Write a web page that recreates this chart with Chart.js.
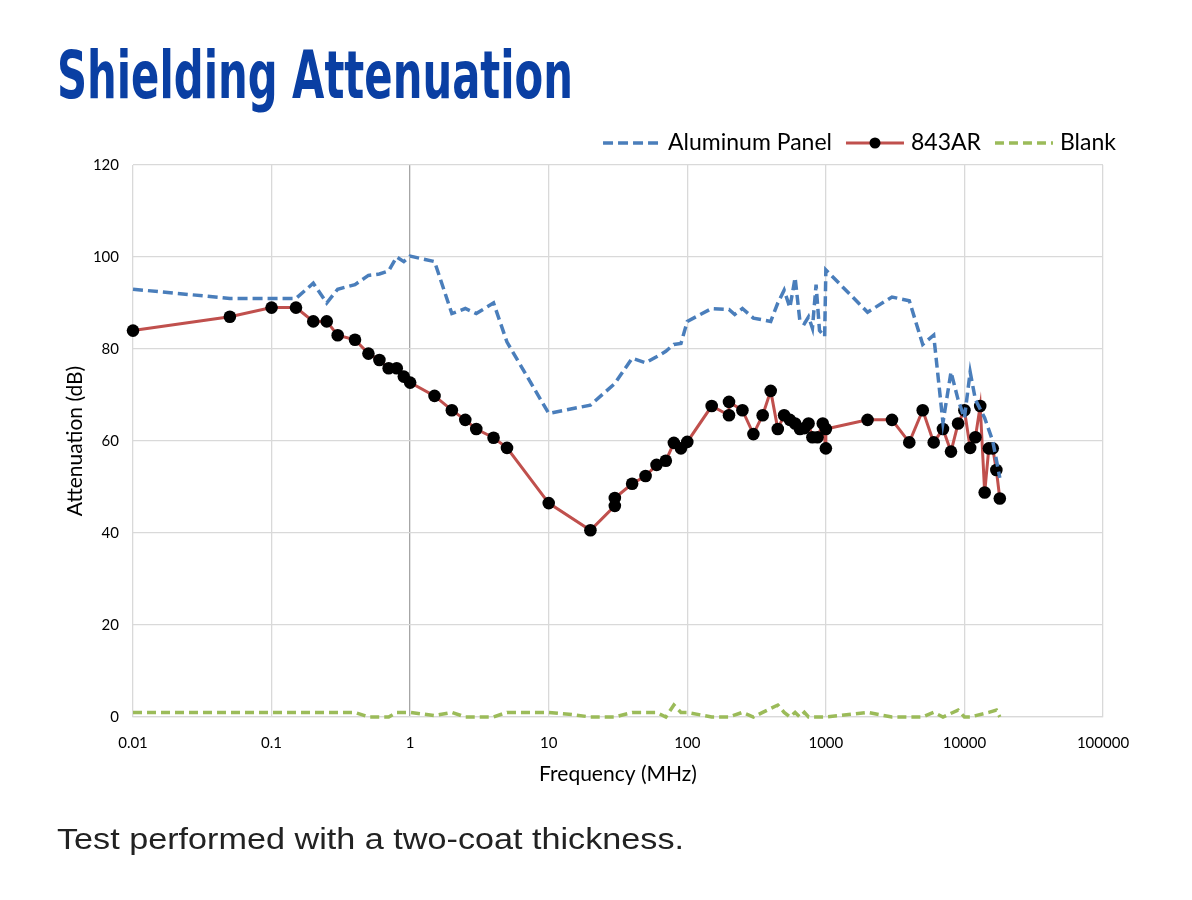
<!DOCTYPE html>
<html><head><meta charset="utf-8">
<script src="https://cdn.jsdelivr.net/npm/chart.js@4/dist/chart.umd.min.js"></script>
<style>
html,body{margin:0;padding:0;background:#fff;}
body{width:1192px;height:900px;position:relative;overflow:hidden;}
#title{position:absolute;left:57px;top:43px;font-family:"Liberation Sans Narrow","DejaVu Sans Condensed","Roboto Condensed",sans-serif;font-weight:bold;font-size:66px;color:#0A3FA3;white-space:nowrap;transform-origin:0 0;line-height:1;}
#note{position:absolute;left:57px;top:825px;font-family:"Liberation Sans",Arial,sans-serif;font-size:29px;color:#222;white-space:nowrap;transform-origin:0 0;line-height:1;}
#wrap{position:absolute;left:0;top:0;width:1192px;height:900px;}
</style></head><body>
<div id="wrap"><canvas id="c" width="1192" height="900"></canvas></div>
<div id="title">Shielding Attenuation</div>
<div id="note">Test performed with a two-coat thickness.</div>
<script>
// ---- data (frequency in MHz, attenuation in dB) ----
const alFreq = [0.01,0.05,0.1,0.15,0.2,0.25,0.3,0.4,0.5,0.6,0.7,0.8,0.9,1,1.5,2,2.5,3,4,5,10,20,30,40,50,60,70,80,90,100,150,200,220,250,300,400,450,500,550,600,650,700,750,800,850,900,980,1000,2000,3000,4000,5000,6000,7000,8000,9000,10000,11000,12000,14000,16000,18000];
const alAtt  = [93,91,91,91,94.3,90,93,94,96,96.3,97,100,99,100.2,99,87.7,88.8,87.7,90,81.5,66,67.8,72.5,78,77,78.3,79.5,81,81.2,86,88.8,88.6,87.5,88.8,86.7,86,90,92.8,89,95.5,86,85.5,87,84.5,94,84,82.7,97.2,88,91.3,90.5,81,83,64,75,69,65,75,69,65,60,52];

const arFreq = [0.01,0.05,0.1,0.15,0.2,0.25,0.3,0.4,0.5,0.6,0.7,0.8,0.9,1,1.5,2,2.5,3,4,5,10,20,30,30,40,50,60,70,80,90,100,150,200,200,250,300,350,400,450,500,550,600,650,700,750,800,870,950,1000,1000,2000,3000,4000,5000,6000,7000,8000,9000,10000,11000,12000,13000,14000,15000,16000,17000,18000];
const arAtt  = [84,87,89,89,86,86,83,82,79,77.6,75.8,75.8,74,72.7,69.8,66.7,64.6,62.6,60.7,58.5,46.5,40.6,45.9,47.6,50.7,52.4,54.8,55.7,59.6,58.4,59.8,67.6,65.6,68.5,66.7,61.5,65.6,70.9,62.6,65.6,64.6,63.8,62.6,62.8,63.8,60.8,60.8,63.8,58.4,62.6,64.6,64.6,59.7,66.7,59.7,62.6,57.7,63.8,66.7,58.5,60.8,67.6,48.8,58.4,58.4,53.7,47.5];

const blankFreq = [0.01,0.4,0.5,0.7,0.8,1,1.5,2,2.5,4,5,10,15,20,30,40,60,70,80,90,100,150,200,250,300,350,450,500,550,600,650,700,750,1000,2000,3000,5000,6000,7000,9000,10000,11000,15000,17000,18000];
const blankAtt  = [1,1,0,0,1,1,0.3,1,0,0,1,1,0.5,0,0,1,1,0,2.6,1,1,0,0,1,0,1,2.6,1,0,1,0,1,0,0,1,0,0,1,0,1.5,0,0,1,1.5,0];

const xTickValues = [0.01,0.1,1,10,100,1000,10000,100000];
const xTickLabels = ['0.01','0.1','1','10','100','1000','10000','100000'];
const yTickValues = [0,20,40,60,80,100,120];

const seriesNames = ['Aluminum Panel','843AR','Blank'];

function pts(xs, ys){ return xs.map((x,i)=>({x:x, y:ys[i]})); }

const legendPlugin = {
  id:'customLegend',
  afterDraw(chart){
    const ctx = chart.ctx;
    const dsets = chart.data.datasets;
    ctx.save();
    ctx.font = '23px Lato';
    ctx.textBaseline = 'middle';
    const y = 143;
    let x = 1116;
    const sampleLen = 58, gapText = 7, gapItem = 14;
    for (let i = dsets.length-1; i >= 0; i--) {
      const ds = dsets[i];
      const tw = ctx.measureText(ds.label).width;
      x -= tw;
      ctx.fillStyle = '#000';
      ctx.fillText(ds.label, x, y);
      x -= gapText;
      const x1 = x, x0 = x - sampleLen;
      ctx.beginPath();
      ctx.setLineDash(ds.borderDash || []);
      ctx.strokeStyle = ds.borderColor;
      ctx.lineWidth = ds.borderWidth;
      ctx.moveTo(x0, y); ctx.lineTo(x1, y);
      ctx.stroke();
      ctx.setLineDash([]);
      if (ds.pointRadius > 0) {
        ctx.beginPath();
        ctx.fillStyle = ds.pointBackgroundColor;
        ctx.arc((x0+x1)/2, y, 5.5, 0, Math.PI*2);
        ctx.fill();
      }
      x = x0 - gapItem;
    }
    ctx.restore();
  }
};

const chart = new Chart(document.getElementById('c'), {
  type: 'line',
  data: {
    datasets: [
      { label: seriesNames[0], data: pts(alFreq, alAtt), borderColor:'#4A7EBB', borderWidth:3.5, borderDash:[10,5], pointRadius:0, tension:0, clip:false, fill:false },
      { label: seriesNames[1], data: pts(arFreq, arAtt), borderColor:'#C0504D', borderWidth:3, pointRadius:6.3, pointHoverRadius:6.3, pointBackgroundColor:'#000', pointBorderColor:'#000', pointBorderWidth:0, tension:0, clip:false, fill:false },
      { label: seriesNames[2], data: pts(blankFreq, blankAtt), borderColor:'#9BBB59', borderWidth:3.5, borderDash:[9,5], pointRadius:0, tension:0, clip:false, fill:false }
    ]
  },
  options: {
    responsive:false,
    animation:false,
    devicePixelRatio:1,
    layout:{ padding:{ left:0, right:89, top:165, bottom:103 } },
    plugins:{ legend:{display:false}, tooltip:{enabled:false}, title:{display:false} },
    scales:{
      x:{
        type:'logarithmic', min:0.01, max:100000,
        afterBuildTicks:(s)=>{ s.ticks = xTickValues.map(v=>({value:v})); },
        afterFit:(s)=>{ s.height = 80; },
        ticks:{ autoSkip:false, maxRotation:0, padding:17, color:'#000', font:{family:'Lato', size:15},
          callback:(v,i)=> xTickLabels[i] },
        grid:{ drawTicks:false, color:(c)=> (c.tick && c.tick.value === 1) ? '#A6A6A6' : '#D9D9D9', lineWidth:1.3 },
        border:{ display:true, color:'#D9D9D9', width:1.3 },
        title:{ display:true, text:'Frequency (MHz)', color:'#000', font:{family:'Lato', size:21}, padding:{top:0,bottom:10} }
      },
      y:{
        type:'linear', min:0, max:120,
        afterBuildTicks:(s)=>{ s.ticks = yTickValues.map(v=>({value:v})); },
        afterFit:(s)=>{ s.width = 133; },
        ticks:{ padding:14, color:'#000', font:{family:'Lato', size:15} },
        grid:{ drawTicks:false, color:'#D9D9D9', lineWidth:1.3 },
        border:{ display:false },
        title:{ display:true, text:'Attenuation (dB)', color:'#000', font:{family:'Lato', size:21}, padding:{top:63,bottom:0} }
      }
    }
  },
  plugins:[legendPlugin]
});

function fitWidth(id, target){
  const el = document.getElementById(id);
  const w = el.getBoundingClientRect().width;
  if (w > 0) el.style.transform = 'scaleX(' + (target / w) + ')';
}
fitWidth('title', 516);
fitWidth('note', 627);
</script>
</body></html>
